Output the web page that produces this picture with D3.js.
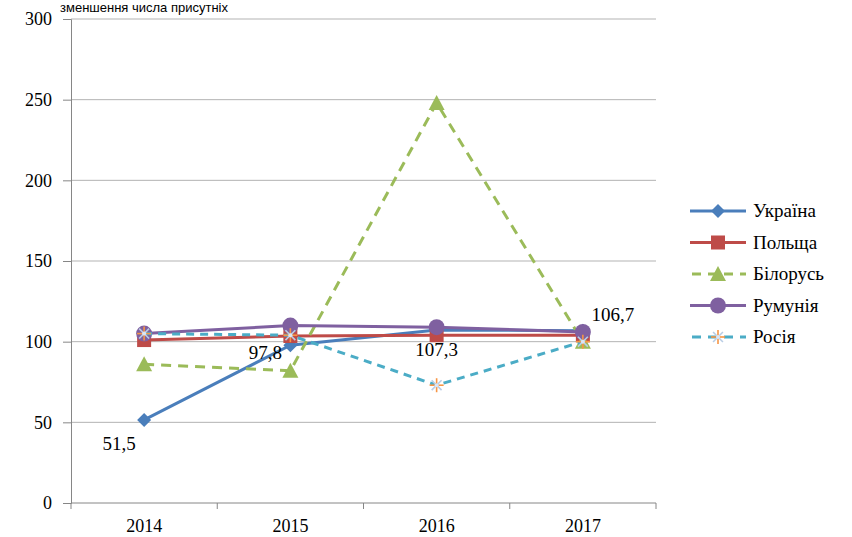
<!DOCTYPE html>
<html><head><meta charset="utf-8">
<script src="https://cdn.jsdelivr.net/npm/d3@7"></script>
<style>body{margin:0;background:#fff}svg{display:block}</style>
</head><body>
<svg id="chart" width="852" height="537"></svg>
<script>
const years = ["2014","2015","2016","2017"];
const yTicks = [0,50,100,150,200,250,300];
const ukraine = [51.5, 97.8, 107.3, 106.7];
const poland = [101, 103.5, 104, 104];
const belarus = [86, 82, 248, 100];
const romania = [105, 110, 109, 106];
const russia = [105, 104, 73, 100];
const seriesNames = ["Україна","Польща","Білорусь","Румунія","Росія"];
const seriesColors = ["#4A7EBB","#BE4B48","#9BBB59","#7F60A0","#4BACC6"];
const seriesMarkers = ["diamond","square","triangle","circle","star"];
const seriesDash = [null,null,"10,7",null,"8,6"];
const ukraineLabels = ["51,5","97,8","107,3","106,7"];
const titleText = "зменшення  числа присутніх";

(function(){
const SERIF = "Liberation Serif";
const series = [ukraine, poland, belarus, romania, russia].map((v,i)=>({
  name: seriesNames[i], values: v, color: seriesColors[i], marker: seriesMarkers[i], dash: seriesDash[i]
}));

const svg = d3.select("#chart");
const pL = 71, pR = 656, pT = 19, pB = 503;
const x = d3.scaleBand().domain(years).range([pL, pR]).paddingInner(0).paddingOuter(0);
const y = d3.scaleLinear().domain([0,300]).range([pB, pT]);
const cx = d => x(d) + x.bandwidth()/2;

// title (partly cropped in the reference)
svg.append("text").attr("x", 60).attr("y", 12).attr("font-family","Liberation Sans")
  .attr("font-size", 13).attr("fill","#000").text(titleText);

// gridlines
svg.append("g").selectAll("line").data(yTicks.filter(t=>t>0)).join("line")
  .attr("x1", pL).attr("x2", pR).attr("y1", d=>y(d)).attr("y2", d=>y(d))
  .attr("stroke","#b3b3b3").attr("stroke-width",1);

// y axis
const yAxis = d3.axisLeft(y).tickValues(yTicks).tickSize(8).tickPadding(11).tickFormat(d3.format("d"));
const gy = svg.append("g").attr("transform",`translate(${pL},0)`).call(yAxis);
gy.attr("font-family", SERIF).attr("font-size", 18);
gy.select(".domain").attr("stroke","#868686");
gy.selectAll(".tick line").attr("stroke","#868686");
gy.selectAll("text").attr("font-family", SERIF).attr("font-size",18).attr("fill","#000");

// x axis
const gx = svg.append("g").attr("transform",`translate(0,${pB})`);
gx.append("line").attr("x1",pL).attr("x2",pR).attr("stroke","#868686");
const bounds = years.map(d=>x(d)).concat([pR]);
gx.selectAll("line.tk").data(bounds).join("line").attr("class","tk")
  .attr("x1",d=>d).attr("x2",d=>d).attr("y1",0).attr("y2",6).attr("stroke","#868686");
gx.selectAll("text").data(years).join("text").attr("x",d=>cx(d)).attr("y",29)
  .attr("text-anchor","middle").attr("font-family", SERIF).attr("font-size",18).attr("fill","#000").text(d=>d);

function drawMarker(g, type, color, px, py) {
  if (type==="diamond") {
    g.append("path").attr("d",`M${px},${py-7}L${px+7},${py}L${px},${py+7}L${px-7},${py}Z`).attr("fill",color);
  } else if (type==="square") {
    g.append("rect").attr("x",px-7).attr("y",py-7).attr("width",14).attr("height",14).attr("fill",color);
  } else if (type==="triangle") {
    g.append("path").attr("d",`M${px},${py-8}L${px+8},${py+7}L${px-8},${py+7}Z`).attr("fill",color);
  } else if (type==="circle") {
    g.append("circle").attr("cx",px).attr("cy",py).attr("r",8).attr("fill",color);
  } else if (type==="star") {
    const r = 7;
    for (let k=0;k<4;k++){
      const a = k*Math.PI/4;
      g.append("line").attr("x1",px-r*Math.cos(a)).attr("y1",py-r*Math.sin(a))
        .attr("x2",px+r*Math.cos(a)).attr("y2",py+r*Math.sin(a))
        .attr("stroke", k%2===0 ? "#F79646" : "#B9CDE5").attr("stroke-width",1.6);
    }
    g.append("circle").attr("cx",px).attr("cy",py).attr("r",2).attr("fill","#dbe6f4");
  }
}

const line = d3.line().x((d,i)=>cx(years[i])).y(d=>y(d));
series.forEach(s=>{
  const g = svg.append("g");
  g.append("path").attr("d", line(s.values)).attr("fill","none").attr("stroke",s.color)
    .attr("stroke-width",3).attr("stroke-dasharray", s.dash).attr("stroke-linejoin","round");
  s.values.forEach((v,i)=>drawMarker(g, s.marker, s.color, cx(years[i]), y(v)));
});

// data labels for Ukraine
const labelOffsets = [[-25,30],[-25,14],[0,26],[30,-10]];
svg.append("g").selectAll("text").data(ukraine).join("text")
  .attr("x",(d,i)=>cx(years[i])+labelOffsets[i][0]).attr("y",(d,i)=>y(d)+labelOffsets[i][1])
  .attr("text-anchor","middle").attr("font-family", SERIF).attr("font-size",19)
  .attr("fill","#000").text((d,i)=>ukraineLabels[i]);

// legend
const lg = svg.append("g");
series.forEach((s,i)=>{
  const ly = 211 + i*31.5;
  lg.append("line").attr("x1",690).attr("x2",746).attr("y1",ly).attr("y2",ly)
    .attr("stroke",s.color).attr("stroke-width",3).attr("stroke-dasharray", s.dash ? "9,7" : null)
    .attr("stroke-dashoffset", s.dash ? -2 : 0);
  drawMarker(lg, s.marker, s.color, 718, ly);
  lg.append("text").attr("x",753).attr("y",ly+6).attr("font-family", SERIF)
    .attr("font-size",19).attr("fill","#000").text(s.name);
});
})();
</script>
</body></html>
